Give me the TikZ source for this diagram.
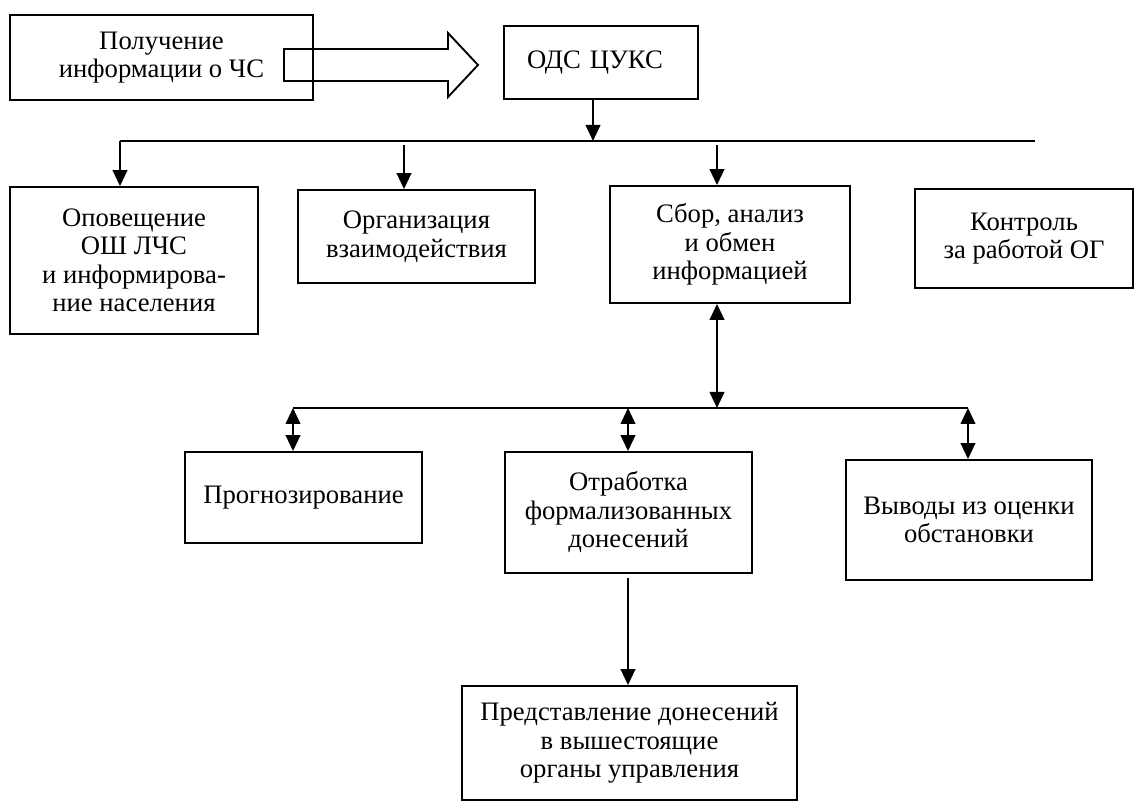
\documentclass[tikz,border=0pt]{standalone}
\usepackage{fontspec}
\setmainfont{Liberation Serif}
\usetikzlibrary{arrows.meta}
\begin{document}
\begin{tikzpicture}[x=0.75pt,y=-0.75pt,
  box/.style={draw,line width=1.4pt,rectangle,align=center,inner sep=0pt,
    font=\fontsize{20}{21.4}\selectfont},
  wh/.style 2 args={minimum width=#1*0.75pt,minimum height=#2*0.75pt},
  conn/.style={line width=1.5pt},
  tip/.tip={Triangle[length=12pt,width=11pt]},
  arr/.style={conn,-tip},
  darr/.style={conn,tip-tip},
]
\useasboundingbox (0,0) rectangle (1140,802);

% boxes
\node[box,wh={303}{85}]  (get)    at (161.5,57.5) {Получение\\информации о ЧС};
\node[box,wh={194}{73},align=left,text width=148*0.75pt,inner xsep=23*0.75pt]
                         (ods)    at (601,62.5)   {ОДС ЦУКС};
\node[box,wh={248}{147}] (notify) at (134,260.5)  {Оповещение\\ОШ ЛЧС\\и информирова-\\ние населения};
\node[box,wh={237}{93}]  (org)    at (416.5,236.5){Организация\\взаимодействия};
\node[box,wh={240}{117}] (col)    at (730,244.5)  {Сбор, анализ\\и обмен\\информацией};
\node[box,wh={218}{99}]  (ctrl)   at (1024,238.5) {Контроль\\за работой ОГ};
\node[box,wh={237}{91}]  (prog)   at (303.5,497.5){Прогнозирование};
\node[box,wh={247}{121}] (work)   at (628.5,512.5){Отработка\\формализованных\\донесений};
\node[box,wh={246}{120}] (concl)  at (969,520)    {Выводы из оценки\\обстановки};
\node[box,wh={335}{114}] (rep)    at (629.5,743)  {Представление донесений\\в вышестоящие\\органы управления};

% hollow block arrow from the source box to the duty service
\draw[line width=1.4pt] (284,49) -- (448,49) -- (448,33) -- (478,65)
  -- (448,97) -- (448,81) -- (284,81) -- cycle;

% upper distribution bus
\coordinate (busL) at (120,141);
\coordinate (busR) at (1035,141);
\coordinate (tapA) at (593,141);
\coordinate (tapB) at (404,145);
\coordinate (tapC) at (717,145);
\draw[conn] (busL) -- (busR);
\draw[arr] (ods.south -| tapA) -- (tapA);
\draw[arr] (busL) -- (notify.north -| busL);
\draw[arr] (tapB) -- (org.north -| tapB);
\draw[arr] (tapC) -- (col.north -| tapC);

% lower exchange bus
\coordinate (lbL) at (293,408);
\coordinate (lbC) at (717,408);
\coordinate (lbM) at (628,408);
\coordinate (lbR) at (968,408);
\draw[conn] (lbL) -- (lbR);
\draw[darr] (col.south -| lbC) -- (lbC);
\draw[darr] (lbL) -- (prog.north -| lbL);
\draw[darr] (lbM) -- (work.north -| lbM);
\draw[darr] (lbR) -- (concl.north -| lbR);

% reports go up the chain
\draw[arr] ([yshift=-3pt]work.south -| lbM) -- (rep.north -| lbM);
\end{tikzpicture}
\end{document}
